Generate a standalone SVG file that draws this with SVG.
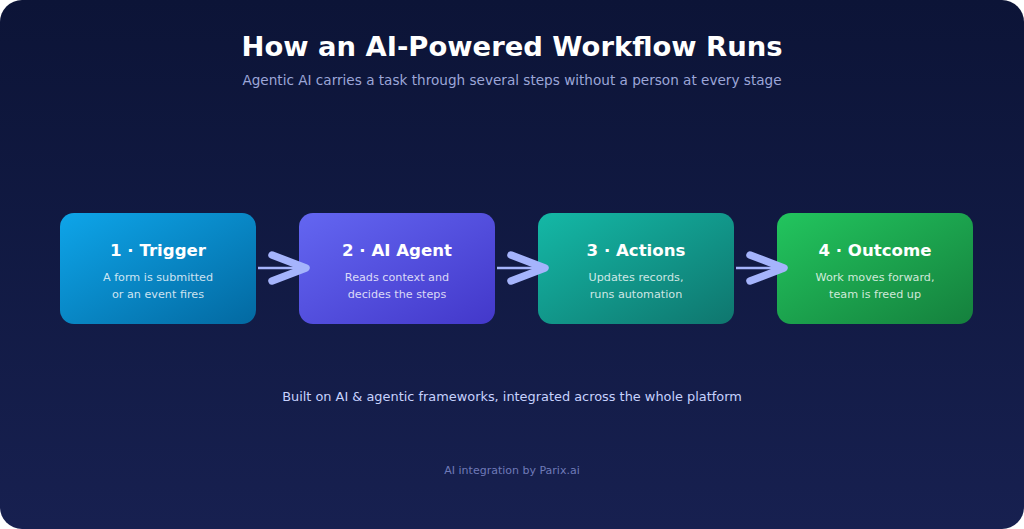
<svg xmlns="http://www.w3.org/2000/svg" width="1024" height="529" viewBox="0 0 1024 529">
<style>
.title{font-family:"DejaVu Sans",sans-serif;font-weight:bold;font-size:27.4px;fill:#ffffff;text-anchor:middle}
.sub{font-family:"DejaVu Sans",sans-serif;font-size:13.6px;fill:#9ca6d8;text-anchor:middle}
.nt{font-family:"DejaVu Sans",sans-serif;font-weight:bold;font-size:16.6px;fill:#ffffff;text-anchor:middle}
.nd{font-family:"DejaVu Sans",sans-serif;font-size:11.2px;fill:#ffffff;fill-opacity:.8;text-anchor:middle}
.note{font-family:"DejaVu Sans",sans-serif;font-size:12.9px;fill:#c7d2fe;text-anchor:middle}
.foot{font-family:"DejaVu Sans",sans-serif;font-size:11px;fill:#6f7ab8;text-anchor:middle}
.conn line{stroke:#a5b4fc;stroke-width:2.5}
.conn polyline{fill:none;stroke:#a5b4fc;stroke-width:7.5;stroke-linecap:round;stroke-linejoin:round}
</style>
<defs>
<linearGradient id="bg" x1="0" y1="0" x2="0" y2="1"><stop offset="0" stop-color="#0c1437"/><stop offset="1" stop-color="#172050"/></linearGradient>
<linearGradient id="g1" x1="0" y1="0" x2="1" y2="1"><stop offset="0" stop-color="#0ea5e9"/><stop offset="1" stop-color="#0369a1"/></linearGradient>
<linearGradient id="g2" x1="0" y1="0" x2="1" y2="1"><stop offset="0" stop-color="#6366f1"/><stop offset="1" stop-color="#4338ca"/></linearGradient>
<linearGradient id="g3" x1="0" y1="0" x2="1" y2="1"><stop offset="0" stop-color="#14b8a6"/><stop offset="1" stop-color="#0f766e"/></linearGradient>
<linearGradient id="g4" x1="0" y1="0" x2="1" y2="1"><stop offset="0" stop-color="#22c55e"/><stop offset="1" stop-color="#15803d"/></linearGradient>
</defs>
<rect x="0" y="0" width="1024" height="529" fill="#ffffff"/>
<rect x="0" y="0" width="1024" height="529" rx="22" fill="url(#bg)"/>
<text class="title" x="512" y="56">How an AI-Powered Workflow Runs</text>
<text class="sub" x="512" y="85">Agentic AI carries a task through several steps without a person at every stage</text>
<g id="n1"><rect x="60" y="213" width="196" height="111" rx="14" fill="url(#g1)"/><text class="nt" x="158" y="256">1 · Trigger</text><text class="nd" x="158" y="281">A form is submitted</text><text class="nd" x="158" y="298">or an event fires</text></g>
<g id="n2"><rect x="299" y="213" width="196" height="111" rx="14" fill="url(#g2)"/><text class="nt" x="397" y="256">2 · AI Agent</text><text class="nd" x="397" y="281">Reads context and</text><text class="nd" x="397" y="298">decides the steps</text></g>
<g id="n3"><rect x="538" y="213" width="196" height="111" rx="14" fill="url(#g3)"/><text class="nt" x="636" y="256">3 · Actions</text><text class="nd" x="636" y="281">Updates records,</text><text class="nd" x="636" y="298">runs automation</text></g>
<g id="n4"><rect x="777" y="213" width="196" height="111" rx="14" fill="url(#g4)"/><text class="nt" x="875" y="256">4 · Outcome</text><text class="nd" x="875" y="281">Work moves forward,</text><text class="nd" x="875" y="298">team is freed up</text></g>
<g class="conn">
<line x1="258" y1="268" x2="302" y2="268"/><polyline points="272,255 306,268 272,281"/>
<line x1="497" y1="268" x2="541" y2="268"/><polyline points="511,255 545,268 511,281"/>
<line x1="736" y1="268" x2="780" y2="268"/><polyline points="750,255 784,268 750,281"/>
</g>
<text class="note" x="512" y="401">Built on AI &amp; agentic frameworks, integrated across the whole platform</text>
<text class="foot" x="512" y="474">AI integration by Parix.ai</text>
</svg>
